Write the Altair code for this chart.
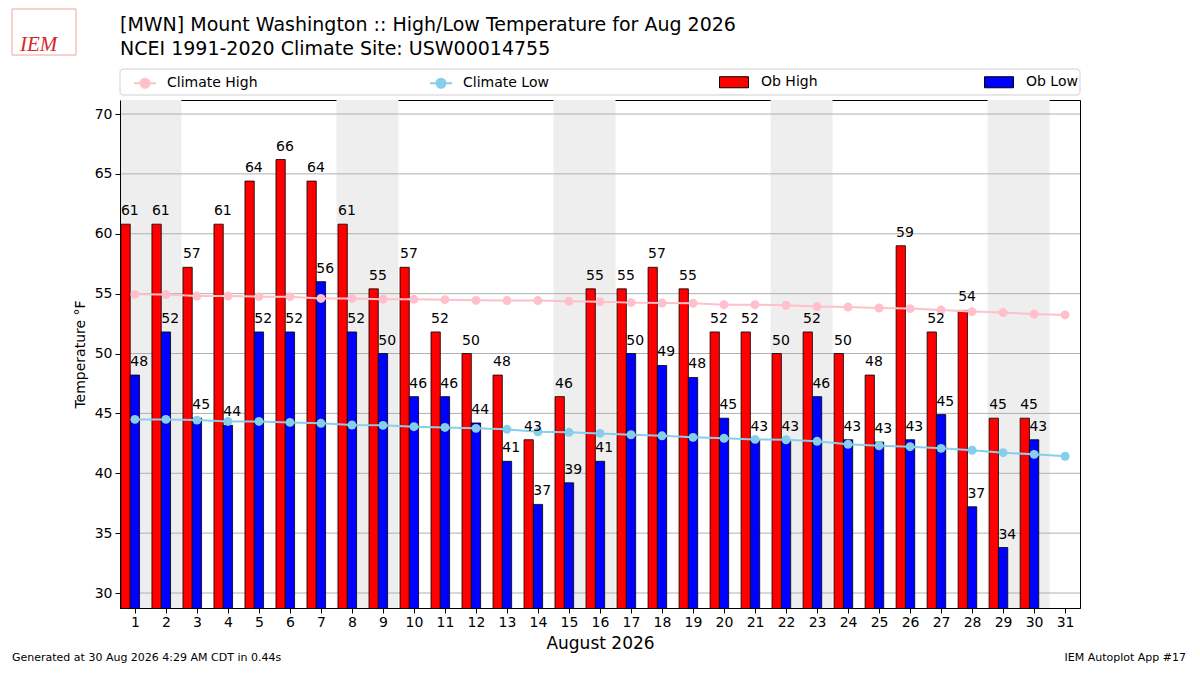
import altair as alt
import pandas as pd

TITLE_LINES = [
    "[MWN] Mount Washington :: High/Low Temperature for Aug 2026",
    "NCEI 1991-2020 Climate Site: USW00014755",
]
FOOTER_LEFT = "Generated at 30 Aug 2026 4:29 AM CDT in 0.44s"
FOOTER_RIGHT = "IEM Autoplot App #17"

days = list(range(1, 32))
ob_high = [60.8, 60.8, 57.2, 60.8, 64.4, 66.2, 64.4, 60.8, 55.4, 57.2,
           51.8, 50.0, 48.2, 42.8, 46.4, 55.4, 55.4, 57.2, 55.4, 51.8,
           51.8, 50.0, 51.8, 50.0, 48.2, 59.0, 51.8, 53.6, 44.6, 44.6, None]
ob_low = [48.2, 51.8, 44.6, 44.0, 51.8, 51.8, 56.0, 51.8, 50.0, 46.4,
          46.4, 44.2, 41.0, 37.4, 39.2, 41.0, 50.0, 49.0, 48.0, 44.6,
          42.8, 42.8, 46.4, 42.8, 42.6, 42.8, 44.9, 37.2, 33.8, 42.8, None]
climate_high = [54.94, 54.92, 54.80, 54.80, 54.75, 54.75, 54.60, 54.60, 54.53, 54.53,
                54.50, 54.44, 54.42, 54.42, 54.36, 54.33, 54.25, 54.22, 54.20, 54.08,
                54.08, 54.03, 53.92, 53.88, 53.80, 53.75, 53.63, 53.50, 53.42, 53.30,
                53.22]
climate_low = [44.50, 44.50, 44.44, 44.33, 44.33, 44.25, 44.17, 44.03, 44.00, 43.89,
               43.83, 43.75, 43.67, 43.47, 43.42, 43.33, 43.22, 43.13, 43.00, 42.92,
               42.83, 42.80, 42.67, 42.42, 42.30, 42.22, 42.08, 41.92, 41.72, 41.58,
               41.42]
weekend_starts = [1, 8, 15, 22, 29]
y_ticks = [30, 35, 40, 45, 50, 55, 60, 65, 70]

LINE_DOT = ("M-1,0H1M0.41,0A0.41,0.41,0,1,1,-0.41,0"
            "A0.41,0.41,0,1,1,0.41,0Z")
BOX = "M-1,-0.38H1V0.38H-1Z"


def build_frames():
    rows = []
    for day, hi, lo in zip(days, ob_high, ob_low):
        if hi is not None:
            rows.append({"day": day, "kind": "Ob High", "temp": hi})
        if lo is not None:
            rows.append({"day": day, "kind": "Ob Low", "temp": lo})
    obs = pd.DataFrame(rows)
    obs["label"] = obs["temp"].map(lambda v: f"{v:.0f}")

    clim = pd.DataFrame(
        {
            "day": days + days,
            "series": ["Climate High"] * len(days) + ["Climate Low"] * len(days),
            "temp": climate_high + climate_low,
        }
    )
    return obs, clim


def text_layer(text, x, y, **style):
    return (
        alt.Chart(pd.DataFrame({"t": [text]}))
        .mark_text(**style)
        .encode(text="t:N", x=alt.value(x), y=alt.value(y))
    )


def main() -> None:
    obs, clim = build_frames()

    x_scale = alt.Scale(domain=[0.52, 31.48], nice=False, zero=False)
    y_scale = alt.Scale(domain=[28.75, 71.17], nice=False, zero=False)
    x_axis = alt.Axis(
        title="August 2026", values=days, format="d", grid=False,
        labelFontSize=14, titleFontSize=17, titleFontWeight="normal",
        labelColor="black", titleColor="black", domainColor="black",
        tickColor="black", tickSize=5, labelPadding=2, titlePadding=6,
        labelFlush=False, zindex=1,
    )
    y_axis = alt.Axis(
        title="Temperature °F", values=y_ticks, grid=False,
        labelFontSize=14, titleFontSize=14, titleFontWeight="normal",
        labelColor="black", titleColor="black", domainColor="black",
        tickColor="black", tickSize=5, labelPadding=3, titlePadding=7,
        zindex=1,
    )

    clim_scale = alt.Scale(domain=["Climate High", "Climate Low"], range=["pink", "skyblue"])
    clim_legend = alt.Legend(
        title=None, orient="none", legendX=13, legendY=-29, direction="horizontal",
        symbolType=LINE_DOT, symbolSize=484, symbolStrokeWidth=2,
        labelFontSize=14, labelColor="black", labelOffset=10,
        columnPadding=168, padding=0,
    )
    ob_legend = alt.Legend(
        title=None, orient="none", legendX=599, legendY=-33, direction="horizontal",
        symbolType=BOX, symbolSize=841, symbolStrokeWidth=1, symbolStrokeColor="black",
        labelFontSize=14, labelColor="black", labelOffset=12,
        columnPadding=164, padding=0,
    )

    bands = (
        alt.Chart(pd.DataFrame({"start": weekend_starts}))
        .transform_calculate(x0="datum.start - 0.5", x1="datum.start + 1.5")
        .mark_rect(color="#eeeeee", clip=True)
        .encode(x=alt.X("x0:Q", scale=x_scale, axis=x_axis), x2=alt.X2("x1"))
    )

    grid = (
        alt.Chart(pd.DataFrame({"t": y_ticks}))
        .mark_rule(color="#b0b0b0", strokeWidth=1)
        .encode(y=alt.Y("t:Q", scale=y_scale, axis=y_axis))
    )

    obs_base = alt.Chart(obs).transform_calculate(
        x0="datum.day + (datum.kind == 'Ob High' ? -0.45 : -0.15)",
        x1="datum.x0 + 0.3",
        base="0",
    )
    bars = obs_base.mark_bar(stroke="black", strokeWidth=0.8, clip=True).encode(
        x=alt.X("x0:Q", scale=x_scale, axis=x_axis),
        x2=alt.X2("x1"),
        y=alt.Y("temp:Q", scale=y_scale, axis=y_axis, stack=None),
        y2=alt.Y2("base"),
        fill=alt.Fill(
            "kind:N",
            scale=alt.Scale(domain=["Ob High", "Ob Low"], range=["red", "blue"]),
            legend=ob_legend,
        ),
    )

    lines = alt.Chart(clim).mark_line(strokeWidth=2).encode(
        x=alt.X("day:Q", scale=x_scale, axis=x_axis),
        y=alt.Y("temp:Q", scale=y_scale, axis=y_axis),
        stroke=alt.Stroke("series:N", scale=clim_scale, legend=clim_legend),
    )
    points = alt.Chart(clim).mark_circle(size=80, opacity=1).encode(
        x=alt.X("day:Q", scale=x_scale, axis=x_axis),
        y=alt.Y("temp:Q", scale=y_scale, axis=y_axis),
        color=alt.Color("series:N", scale=clim_scale, legend=clim_legend),
    )

    labels = obs_base.mark_text(
        align="left", baseline="alphabetic", dy=-9, fontSize=14, color="black"
    ).encode(
        x=alt.X("x0:Q", scale=x_scale, axis=x_axis),
        y=alt.Y("temp:Q", scale=y_scale, axis=y_axis),
        text="label:N",
    )

    legend_frame = (
        alt.Chart(pd.DataFrame({"t": [0]}))
        .mark_rect(fill="white", stroke="#d0d0d0", strokeWidth=1, cornerRadius=3)
        .encode(x=alt.value(0), x2=alt.value(960), y=alt.value(-31), y2=alt.value(-5))
    )
    logo_frame = (
        alt.Chart(pd.DataFrame({"t": [0]}))
        .mark_rect(fill="white", stroke="#f2a0a0", strokeWidth=1)
        .encode(x=alt.value(-108), x2=alt.value(-44), y=alt.value(-91), y2=alt.value(-45))
    )

    title_style = dict(align="left", baseline="alphabetic", fontSize=19, color="black")
    foot_style = dict(baseline="alphabetic", fontSize=11, color="black")

    chart = alt.layer(
        bands,
        grid,
        bars,
        lines,
        points,
        labels,
        legend_frame,
        logo_frame,
        text_layer("IEM", -100, -49, align="left", baseline="alphabetic",
                   font="Liberation Serif", fontStyle="italic", fontSize=21, color="#d42a2a"),
        text_layer(TITLE_LINES[0], 0, -69, **title_style),
        text_layer(TITLE_LINES[1], 0, -45, **title_style),
        text_layer(FOOTER_LEFT, -108, 561, align="left", **foot_style),
        text_layer(FOOTER_RIGHT, 1066, 561, align="right", **foot_style),
    ).properties(
        width=960,
        height=508,
        autosize=alt.AutoSizeParams(type="none"),
        padding={"left": 112, "top": 92, "right": 112, "bottom": 58},
    ).configure(
        font="DejaVu Sans"
    ).configure_view(
        stroke="black", strokeWidth=1
    )

    chart.save("out.html", embed_options={"renderer": "svg", "actions": False})


if __name__ == "__main__":
    main()
